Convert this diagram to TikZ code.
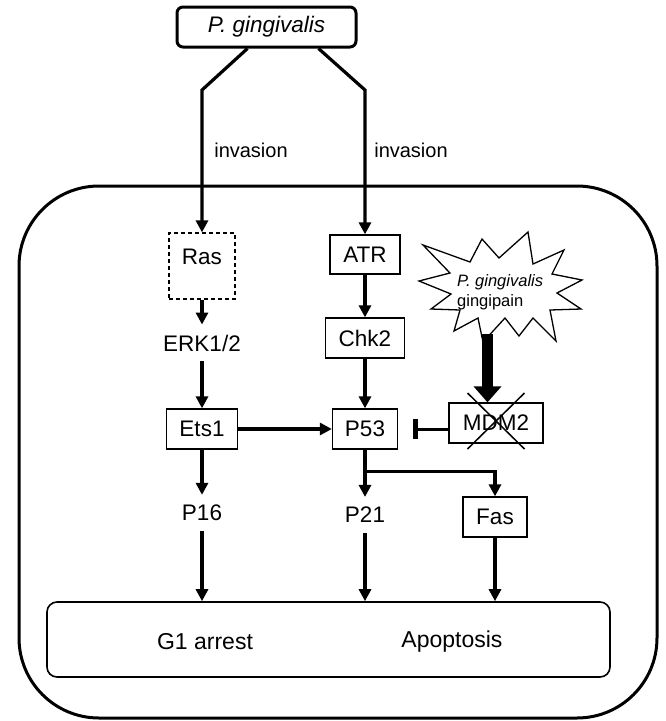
\documentclass[tikz,border=0pt]{standalone}
\usepackage{fontspec}
\setmainfont{Liberation Sans}
\usetikzlibrary{arrows.meta,calc}
\begin{document}
\begin{tikzpicture}[x=1pt,y=-1pt,
  box/.style={draw, line width=1.3pt, inner sep=0pt, minimum height=40pt, font=\fontsize{22.5}{26}\selectfont},
  lbl/.style={inner sep=10pt, font=\fontsize{22.5}{26}\selectfont},
  arr/.style={line width=3.2pt, -{Triangle[length=12pt,width=12pt]}},
  inv/.style={inner sep=0pt, font=\fontsize{20}{24}\selectfont},
  res/.style={inner sep=0pt, font=\fontsize{23}{26}\selectfont}
]
\useasboundingbox (0,0) rectangle (665,721);

% outer cell
\node[draw, line width=3pt, rounded corners=80pt, minimum width=638pt, minimum height=532pt, inner sep=0pt] (cell) at (338,452) {};

% top bacterium
\node[draw, line width=3pt, rounded corners=6pt, minimum width=179pt, minimum height=40pt, inner sep=0pt, font=\itshape\fontsize{22.5}{26}\selectfont] (pg) at (266.5,27) {P. gingivalis};

% outcome box
\node[draw, line width=1.6pt, rounded corners=10pt, minimum width=563pt, minimum height=75pt, inner sep=0pt] (out) at (328.5,639.5) {};
\node[res] (g1) at (205,642) {G1 arrest};
\node[res] (apo) at (452,642) {Apoptosis};

% left column
\node[draw, line width=1.2pt, dash pattern=on 4pt off 3pt, minimum width=66pt, text height=31pt, text depth=35pt, inner sep=0pt, anchor=base, font=\fontsize{22.5}{26}\selectfont] (ras) at (202,264) {Ras};
\node[lbl] (erk) at (202,343) {ERK1/2};
\node[box, minimum width=71pt] (ets) at (202,429) {Ets1};
\node[lbl] (p16) at (202,513) {P16};

% middle column
\node[box, minimum width=70pt, minimum height=39pt] (atr) at (365,254.5) {ATR};
\node[box, minimum width=79pt] (chk) at (365,338) {Chk2};
\node[box, minimum width=65pt] (p53) at (365,429) {P53};
\node[lbl] (p21) at (365,515) {P21};

% right column
\node[box, minimum width=94pt] (mdm) at (496,423) {MDM2};
\node[box, minimum width=64pt] (fas) at (495,517) {Fas};

% invasion labels
\node[inv] (inv1) at (251,150) {invasion};
\node[inv] (inv2) at (411,150) {invasion};

% starburst
\draw[line width=1.3pt, line join=miter, fill=white]
  (528,232) -- (533,264) -- (564,250) -- (552,274) -- (582,280) -- (557,293)
  -- (581,309) -- (550,310) -- (556,341) -- (533,318) -- (519,336) -- (505,318)
  -- (483,342) -- (478,318) -- (454,331) -- (460,310) -- (431,309) -- (451,294)
  -- (419,281) -- (450,273) -- (423,245) -- (470,262) -- (482,239) -- (499,258) -- cycle;
\node[align=left, anchor=west, inner sep=0pt, font=\fontsize{16.5}{20}\selectfont] (gp) at (457,292) {\textit{P. gingivalis}\\gingipain};
\coordinate (burst) at (487.5,334);

% invasion arrows
\draw[arr, line join=miter] ($(pg.south west)+(72,0)$) -- (ras.north |- 0,90) -- (ras.north);
\draw[arr, line join=miter] ($(pg.south east)+(-39,0)$) -- (atr.north |- 0,90) -- (atr.north);

% signalling arrows
\draw[arr] (ras.south) -- (erk.north);
\draw[arr] (erk.south) -- (ets.north);
\draw[arr] (ets.south) -- (p16.north);
\draw[arr] (atr.south) -- (chk.north);
\draw[arr] (chk.south) -- (p53.north);
\draw[arr] (ets.east) -- (p53.west);
\draw[arr] (p53.south) -- (p21.north);
\draw[arr, line join=miter] (p53.south) ++(0,22) -| (fas.north);

% to outcomes
\draw[arr] (p16.south) -- (p16.south |- out.north);
\draw[arr] (p21.south) -- (p21.south |- out.north);
\draw[arr] (fas.south) -- (fas.south |- out.north);

% inhibition
\draw[line width=3pt, -{Bar[width=20pt,line width=4.5pt]}, shorten >=15pt] (mdm.west |- p53.east) -- (p53.east);

% gingipain thick arrow
\draw[line width=11pt, -{Triangle[length=16pt,width=27pt]}] (burst) -- (burst |- mdm.north);

% cross over MDM2
\draw[line width=1.5pt] ($(mdm.center)+(-28.5,-30)$) -- ($(mdm.center)+(28.5,26)$);
\draw[line width=1.5pt] ($(mdm.center)+(28.5,-30)$) -- ($(mdm.center)+(-28.5,26)$);
\end{tikzpicture}
\end{document}
